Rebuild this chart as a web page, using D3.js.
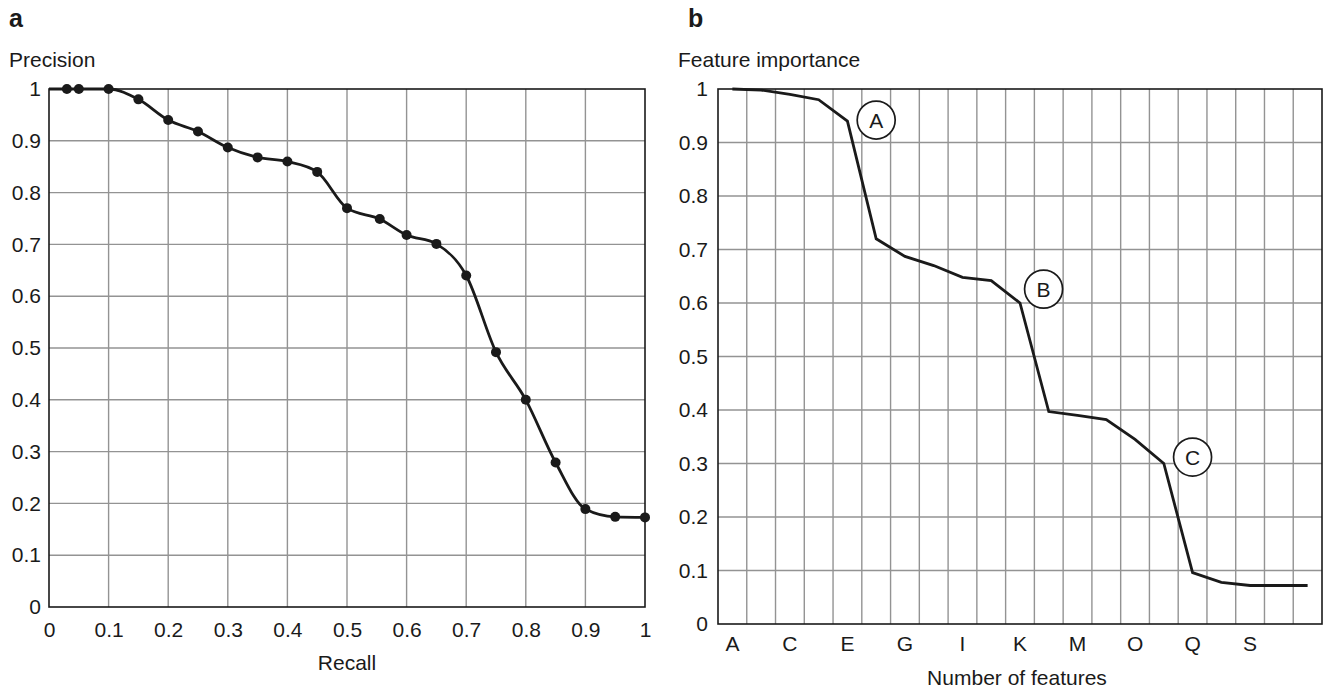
<!DOCTYPE html>
<html>
<head>
<meta charset="utf-8">
<script src="https://cdn.jsdelivr.net/npm/d3@7"></script>
<style>
  html, body { margin: 0; padding: 0; background: #fff; }
  svg { display: block; }
  text { font-family: "Liberation Sans", Arial, Helvetica, sans-serif; fill: #1a1a1a; }
</style>
</head>
<body>
<svg id="chart" width="1323" height="688"></svg>
<script>
// ---- Panel a data ----
const recall    = [0, 0.03, 0.05, 0.10, 0.15, 0.20, 0.25, 0.30, 0.35, 0.40, 0.45, 0.50, 0.555, 0.60, 0.65, 0.70, 0.75, 0.80, 0.85, 0.90, 0.95, 1.00];
const precision = [1, 1.00, 1.00, 1.00, 0.980, 0.940, 0.918, 0.887, 0.868, 0.860, 0.840, 0.770, 0.749, 0.718, 0.701, 0.640, 0.492, 0.400, 0.279, 0.189, 0.174, 0.173];
const markerFrom = 1; // first point only anchors the line
const recallTicks = [0, 0.1, 0.2, 0.3, 0.4, 0.5, 0.6, 0.7, 0.8, 0.9, 1];
const recallTickLabels = ["0", "0.1", "0.2", "0.3", "0.4", "0.5", "0.6", "0.7", "0.8", "0.9", "1"];
const precisionTicks = [0, 0.1, 0.2, 0.3, 0.4, 0.5, 0.6, 0.7, 0.8, 0.9, 1];
const precisionTickLabels = ["0", "0.1", "0.2", "0.3", "0.4", "0.5", "0.6", "0.7", "0.8", "0.9", "1"];

// ---- Panel b data ----
const features   = ["A","B","C","D","E","F","G","H","I","J","K","L","M","N","O","P","Q","R","S","T","U"];
const importance = [1.0, 0.998, 0.99, 0.98, 0.94, 0.72, 0.687, 0.67, 0.648, 0.642, 0.60, 0.397, 0.39, 0.382, 0.345, 0.30, 0.096, 0.078, 0.072, 0.072, 0.072];
const featureTickLabels = ["A","C","E","G","I","K","M","O","Q","S"];
const importanceTicks = [0, 0.1, 0.2, 0.3, 0.4, 0.5, 0.6, 0.7, 0.8, 0.9, 1];
const importanceTickLabels = ["0", "0.1", "0.2", "0.3", "0.4", "0.5", "0.6", "0.7", "0.8", "0.9", "1"];
// annotations: label, position in category units (0 = first band centre), value
const annoLabels = ["A", "B", "C"];
const annoIndex  = [5, 10.82, 16];
const annoValue  = [0.942, 0.626, 0.312];

const svg = d3.select("#chart");
const FONT = 21;
const GRID = "#939393";
const INK = "#1a1a1a";

// ================= Panel a =================
const ax = d3.scaleLinear().domain([0, 1]).range([49, 645]);
const ay = d3.scaleLinear().domain([0, 1]).range([607, 89]);
const ga = svg.append("g");

ga.append("g").selectAll("line.v").data(recallTicks.slice(1, -1)).join("line")
  .attr("x1", d => ax(d)).attr("x2", d => ax(d)).attr("y1", ay(0)).attr("y2", ay(1))
  .attr("stroke", GRID).attr("stroke-width", 1.4);
ga.append("g").selectAll("line.h").data(precisionTicks.slice(1, -1)).join("line")
  .attr("y1", d => ay(d)).attr("y2", d => ay(d)).attr("x1", ax(0)).attr("x2", ax(1))
  .attr("stroke", GRID).attr("stroke-width", 1.4);
ga.append("rect").attr("x", ax(0)).attr("y", ay(1))
  .attr("width", ax(1) - ax(0)).attr("height", ay(0) - ay(1))
  .attr("fill", "none").attr("stroke", INK).attr("stroke-width", 1.6);

// axes (labels only)
const axB = d3.axisBottom(ax).tickValues(recallTicks).tickFormat((d, i) => recallTickLabels[i]).tickSize(0).tickPadding(15);
const gaxB = ga.append("g").attr("transform", `translate(0,${ay(0)})`).call(axB);
gaxB.select(".domain").remove();
gaxB.selectAll("text").attr("font-size", FONT).attr("fill", INK)
  .attr("font-family", '"Liberation Sans", Arial, sans-serif');

const axL = d3.axisLeft(ay).tickValues(precisionTicks).tickFormat((d, i) => precisionTickLabels[i]).tickSize(0).tickPadding(8);
const gaxL = ga.append("g").attr("transform", `translate(${ax(0)},0)`).call(axL);
gaxL.select(".domain").remove();
gaxL.selectAll("text").attr("font-size", FONT).attr("fill", INK)
  .attr("font-family", '"Liberation Sans", Arial, sans-serif');

const ptsA = recall.map((r, i) => ({ x: r, y: precision[i], i }));
ga.append("path").datum(ptsA)
  .attr("d", d3.line().x(d => ax(d.x)).y(d => ay(d.y)).curve(d3.curveMonotoneX))
  .attr("fill", "none").attr("stroke", INK).attr("stroke-width", 2.8);
ga.append("g").selectAll("circle").data(ptsA.filter(d => d.i >= markerFrom)).join("circle")
  .attr("cx", d => ax(d.x)).attr("cy", d => ay(d.y)).attr("r", 5).attr("fill", INK);

ga.append("text").attr("x", 9).attr("y", 27).attr("font-size", 25).attr("font-weight", "bold").text("a");
ga.append("text").attr("x", 9).attr("y", 67).attr("font-size", FONT).text("Precision");
ga.append("text").attr("x", (ax(0) + ax(1)) / 2).attr("y", 670).attr("font-size", FONT)
  .attr("text-anchor", "middle").text("Recall");

// ================= Panel b =================
const bx = d3.scaleBand().domain(features).range([718, 1322]).padding(0);
const by = d3.scaleLinear().domain([0, 1]).range([624, 89]);
const bIdx = d3.scaleLinear().domain([-0.5, features.length - 0.5]).range([718, 1322]);
const gb = svg.append("g");

gb.append("g").selectAll("line.v").data(features.slice(1)).join("line")
  .attr("x1", d => bx(d)).attr("x2", d => bx(d)).attr("y1", by(0)).attr("y2", by(1))
  .attr("stroke", GRID).attr("stroke-width", 1.4);
gb.append("g").selectAll("line.h").data(importanceTicks.slice(1, -1)).join("line")
  .attr("y1", d => by(d)).attr("y2", d => by(d)).attr("x1", 718).attr("x2", 1322)
  .attr("stroke", GRID).attr("stroke-width", 1.4);
gb.append("rect").attr("x", 718).attr("y", by(1))
  .attr("width", 1322 - 718).attr("height", by(0) - by(1))
  .attr("fill", "none").attr("stroke", INK).attr("stroke-width", 1.6);

const bxB = d3.axisBottom(bx).tickValues(featureTickLabels).tickSize(0).tickPadding(12);
const gbxB = gb.append("g").attr("transform", `translate(0,${by(0)})`).call(bxB);
gbxB.select(".domain").remove();
gbxB.selectAll("text").attr("font-size", FONT).attr("fill", INK)
  .attr("font-family", '"Liberation Sans", Arial, sans-serif');

const byL = d3.axisLeft(by).tickValues(importanceTicks).tickFormat((d, i) => importanceTickLabels[i]).tickSize(0).tickPadding(10);
const gbyL = gb.append("g").attr("transform", `translate(718,0)`).call(byL);
gbyL.select(".domain").remove();
gbyL.selectAll("text").attr("font-size", FONT).attr("fill", INK)
  .attr("font-family", '"Liberation Sans", Arial, sans-serif');

const ptsB = features.map((f, i) => ({ f, v: importance[i] }));
gb.append("path").datum(ptsB)
  .attr("d", d3.line().x(d => bx(d.f) + bx.bandwidth() / 2).y(d => by(d.v)))
  .attr("fill", "none").attr("stroke", INK).attr("stroke-width", 2.8).attr("stroke-linejoin", "miter");

const annos = annoLabels.map((l, i) => ({ l, x: bIdx(annoIndex[i]), y: by(annoValue[i]) }));
const ga2 = gb.append("g").selectAll("g").data(annos).join("g")
  .attr("transform", d => `translate(${d.x},${d.y})`);
ga2.append("circle").attr("r", 19).attr("fill", "#fff").attr("stroke", INK).attr("stroke-width", 1.7);
ga2.append("text").attr("text-anchor", "middle").attr("dy", "0.36em").attr("font-size", FONT).text(d => d.l);

gb.append("text").attr("x", 688).attr("y", 27).attr("font-size", 25).attr("font-weight", "bold").text("b");
gb.append("text").attr("x", 678).attr("y", 67).attr("font-size", FONT).text("Feature importance");
gb.append("text").attr("x", (718 + 1322) / 2 - 3).attr("y", 685).attr("font-size", FONT)
  .attr("text-anchor", "middle").text("Number of features");
</script>
</body>
</html>
